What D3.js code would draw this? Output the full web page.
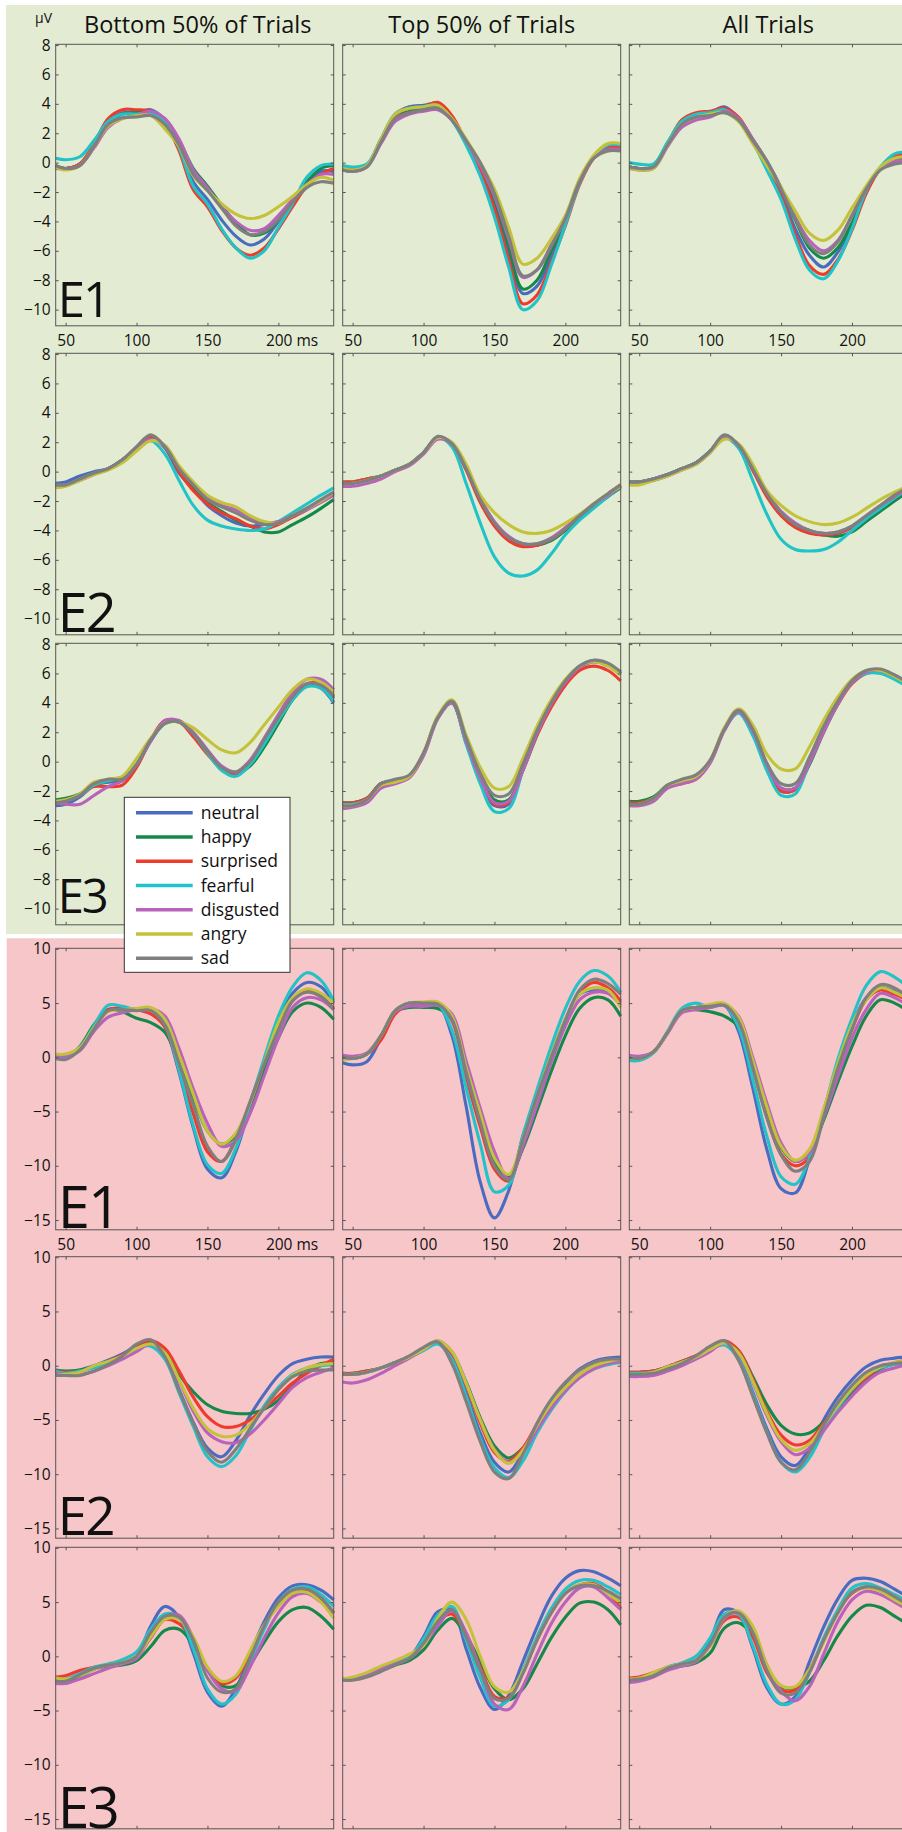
<!DOCTYPE html>
<html>
<head>
<meta charset="utf-8">
<script src="https://d3js.org/d3.v7.min.js"></script>
<style>
  body { margin: 0; background: #fff; }
  svg text { font-family: "Open Sans", "Noto Sans", sans-serif; fill: #111; }
</style>
</head>
<body>
<svg id="chart" width="902" height="1832"></svg>
<script>
var times = [43, 50, 60, 70, 80, 90, 100, 110, 120, 130, 140, 150, 160, 170, 180, 190, 200, 210, 220, 230, 239];
var conditions = ["neutral", "happy", "surprised", "fearful", "disgusted", "angry", "sad"];
var columnTitles = ["Bottom 50% of Trials", "Top 50% of Trials", "All Trials"];
var rowLabels = ["E1", "E2", "E3"];
var xTicks = [50, 100, 150, 200];
var greenYTicks = [-10, -8, -6, -4, -2, 0, 2, 4, 6, 8];
var redYTicks = [-15, -10, -5, 0, 5, 10];

// each panel: one row per condition, in the order of `conditions`
var greenE1Bottom = [
  [-0.2,-0.4,-0.1,1.2,2.8,3.4,3.4,3.6,2.9,1.2,-1.3,-2.5,-3.9,-5.0,-5.6,-5.2,-4.0,-2.7,-1.5,-0.6,-0.6],
  [-0.2,-0.4,-0.1,1.2,2.6,3.3,3.4,3.4,2.9,1.5,-0.4,-1.6,-2.9,-4.1,-4.9,-4.8,-3.9,-2.6,-1.3,-0.4,-0.2],
  [-0.3,-0.4,-0.1,1.3,3.0,3.6,3.6,3.5,2.7,0.8,-1.85,-3.0,-4.6,-5.8,-6.3,-5.8,-4.5,-3.0,-1.6,-0.8,-0.4],
  [0.3,0.2,0.4,1.5,2.8,3.3,3.3,3.4,2.8,1.0,-1.6,-2.8,-4.5,-5.8,-6.5,-6.0,-4.4,-2.8,-1.0,-0.2,-0.1],
  [-0.4,-0.4,-0.2,1.0,2.4,3.0,3.2,3.5,3.0,1.6,-0.5,-1.7,-3.0,-4.0,-4.6,-4.5,-3.6,-2.5,-1.5,-0.8,-0.8],
  [-0.3,-0.5,-0.2,1.1,2.5,3.0,3.2,3.2,2.3,1.1,-0.9,-1.9,-2.8,-3.5,-3.8,-3.6,-3.0,-2.3,-1.5,-1.0,-1.2],
  [-0.2,-0.4,-0.2,1.1,2.6,3.05,3.1,3.2,2.6,1.2,-0.8,-1.9,-3.1,-4.3,-4.9,-4.7,-3.9,-2.7,-1.7,-1.3,-1.4]
];
var greenE1Top = [
  [-0.4,-0.5,-0.2,1.6,3.3,3.8,3.9,4.0,2.9,1.4,-0.4,-2.8,-6.0,-8.9,-8.4,-6.4,-4.0,-1.3,0.4,1.0,1.0],
  [-0.4,-0.5,-0.2,1.5,3.1,3.5,3.7,3.8,2.9,1.5,-0.2,-2.5,-5.7,-8.6,-8.0,-6.0,-4.0,-1.3,0.4,0.9,0.9],
  [-0.4,-0.5,-0.2,1.5,3.2,3.7,3.8,4.1,3.2,1.4,-0.6,-3.2,-6.6,-9.6,-9.0,-6.8,-4.3,-1.5,0.3,1.0,1.1],
  [-0.2,-0.3,-0.1,1.6,3.3,3.7,3.8,3.9,2.9,1.2,-0.9,-3.7,-7.1,-10.0,-9.4,-7.0,-4.2,-1.4,0.4,1.2,1.2],
  [-0.5,-0.6,-0.3,1.3,2.8,3.3,3.5,3.6,2.9,1.5,-0.2,-2.3,-5.2,-7.8,-7.3,-5.6,-3.8,-1.3,0.3,0.9,0.9],
  [-0.4,-0.5,-0.2,1.6,3.3,3.7,3.8,3.9,3.0,1.6,0.0,-1.8,-4.4,-6.9,-6.5,-5.2,-3.6,-1.1,0.5,1.3,1.3],
  [-0.5,-0.6,-0.3,1.4,3.0,3.4,3.6,3.7,2.9,1.5,0.0,-2.1,-5.0,-7.7,-7.3,-5.7,-3.8,-1.3,0.3,0.8,0.8]
];
var greenE1All = [
  [-0.3,-0.4,-0.3,1.3,2.7,3.3,3.4,3.8,3.0,1.5,-0.2,-2.1,-4.5,-6.3,-7.1,-6.1,-4.2,-2.0,-0.4,0.1,0.2],
  [-0.3,-0.4,-0.3,1.3,2.7,3.2,3.4,3.6,3.0,1.6,0.1,-1.7,-3.9,-5.8,-6.5,-5.8,-4.1,-2.0,-0.4,0.2,0.3],
  [-0.3,-0.4,-0.3,1.3,2.9,3.4,3.5,3.7,3.1,1.5,-0.4,-2.3,-4.9,-7.0,-7.6,-6.6,-4.6,-2.1,-0.4,0.4,0.6],
  [0.0,-0.1,-0.1,1.4,2.8,3.3,3.4,3.6,2.9,1.4,-0.5,-2.5,-5.2,-7.3,-7.9,-6.7,-4.5,-1.9,-0.3,0.6,0.7],
  [-0.4,-0.5,-0.4,1.1,2.4,2.9,3.1,3.5,3.0,1.6,0.1,-1.7,-3.7,-5.3,-6.0,-5.3,-3.6,-1.8,-0.4,0.1,0.1],
  [-0.4,-0.5,-0.4,1.2,2.6,3.1,3.3,3.4,2.8,1.3,-0.2,-1.7,-3.3,-4.8,-5.3,-4.6,-3.1,-1.6,-0.3,0.3,0.4],
  [-0.3,-0.4,-0.3,1.2,2.6,3.1,3.2,3.4,2.9,1.5,0.1,-1.8,-3.8,-5.6,-6.2,-5.4,-3.6,-1.8,-0.5,-0.1,0.0]
];
var greenE2Bottom = [
  [-0.8,-0.7,-0.3,0.0,0.2,0.8,1.6,2.4,1.6,-0.1,-1.2,-2.3,-3.0,-3.5,-3.7,-3.6,-3.4,-3.0,-2.5,-2.0,-1.5],
  [-0.9,-0.9,-0.5,-0.1,0.2,0.8,1.6,2.3,1.7,0.0,-1.2,-2.1,-2.7,-3.3,-3.7,-4.1,-4.1,-3.6,-3.1,-2.5,-1.9],
  [-0.9,-0.9,-0.5,-0.1,0.2,0.8,1.6,2.4,1.7,0.0,-1.3,-2.2,-2.8,-3.2,-3.7,-3.9,-3.6,-3.1,-2.6,-2.0,-1.5],
  [-0.9,-0.9,-0.5,-0.1,0.2,0.8,1.5,2.1,1.2,-0.6,-2.3,-3.3,-3.7,-3.9,-4.0,-3.9,-3.4,-2.8,-2.2,-1.6,-1.1],
  [-1.0,-0.9,-0.6,-0.2,0.2,0.7,1.5,2.2,1.7,0.3,-0.8,-1.7,-2.3,-2.6,-3.1,-3.5,-3.4,-3.0,-2.6,-2.1,-1.6],
  [-1.1,-1.0,-0.6,-0.2,0.1,0.6,1.4,2.1,1.8,0.4,-0.7,-1.6,-2.1,-2.4,-3.0,-3.4,-3.5,-3.0,-2.5,-2.0,-1.4],
  [-0.9,-0.9,-0.5,-0.1,0.2,0.8,1.7,2.5,1.7,0.2,-0.9,-1.9,-2.4,-2.8,-3.3,-3.6,-3.5,-3.0,-2.5,-1.9,-1.4]
];
var greenE2Top = [
  [-0.8,-0.8,-0.6,-0.3,0.1,0.5,1.3,2.3,1.9,0.2,-2.0,-3.6,-4.6,-5.0,-5.0,-4.6,-3.9,-3.1,-2.3,-1.6,-1.0],
  [-0.7,-0.7,-0.5,-0.3,0.1,0.5,1.3,2.3,1.9,0.2,-1.9,-3.5,-4.5,-4.9,-5.0,-4.7,-4.0,-3.2,-2.4,-1.7,-1.1],
  [-0.7,-0.7,-0.5,-0.3,0.1,0.5,1.3,2.3,1.9,0.1,-2.1,-3.7,-4.7,-5.1,-5.0,-4.6,-3.9,-3.0,-2.2,-1.5,-0.9],
  [-0.8,-0.8,-0.6,-0.3,0.1,0.5,1.3,2.3,1.7,-0.8,-3.5,-5.8,-6.9,-7.1,-6.7,-5.6,-4.3,-3.3,-2.5,-1.7,-1.0],
  [-1.0,-1.0,-0.8,-0.5,0.0,0.4,1.2,2.2,1.9,0.3,-1.8,-3.4,-4.4,-4.9,-4.9,-4.5,-3.8,-3.0,-2.2,-1.6,-1.0],
  [-0.8,-0.8,-0.6,-0.3,0.1,0.5,1.3,2.3,2.0,0.5,-1.6,-2.8,-3.6,-4.1,-4.2,-4.0,-3.5,-2.9,-2.2,-1.5,-1.0],
  [-0.8,-0.8,-0.6,-0.3,0.1,0.5,1.3,2.4,1.9,0.2,-1.9,-3.5,-4.5,-4.9,-4.9,-4.6,-3.9,-3.0,-2.2,-1.5,-0.9]
];
var greenE2All = [
  [-0.7,-0.7,-0.5,-0.2,0.2,0.6,1.4,2.4,1.8,0.2,-1.6,-2.9,-3.7,-4.1,-4.3,-4.2,-3.8,-3.1,-2.4,-1.7,-1.1],
  [-0.7,-0.7,-0.5,-0.2,0.2,0.6,1.4,2.4,1.8,0.2,-1.5,-2.8,-3.6,-4.0,-4.3,-4.4,-4.1,-3.4,-2.7,-2.0,-1.4],
  [-0.7,-0.7,-0.5,-0.2,0.2,0.6,1.4,2.4,1.8,0.1,-1.7,-3.0,-3.8,-4.2,-4.3,-4.2,-3.8,-3.1,-2.4,-1.7,-1.1],
  [-0.7,-0.7,-0.5,-0.2,0.2,0.6,1.4,2.3,1.6,-0.6,-2.9,-4.6,-5.3,-5.4,-5.3,-4.8,-4.0,-3.2,-2.5,-1.8,-1.2],
  [-0.8,-0.8,-0.6,-0.3,0.1,0.5,1.3,2.3,1.8,0.3,-1.4,-2.7,-3.5,-4.0,-4.2,-4.1,-3.7,-3.0,-2.3,-1.7,-1.1],
  [-0.9,-0.9,-0.6,-0.3,0.1,0.5,1.3,2.2,1.9,0.5,-1.3,-2.3,-3.0,-3.4,-3.6,-3.5,-3.1,-2.5,-1.9,-1.4,-1.0],
  [-0.7,-0.7,-0.5,-0.2,0.2,0.6,1.4,2.5,1.8,0.2,-1.5,-2.8,-3.6,-4.0,-4.2,-4.1,-3.7,-3.0,-2.3,-1.6,-1.1]
];
var greenE3Bottom = [
  [-3.0,-2.9,-2.4,-1.6,-1.4,-1.3,-0.3,1.4,2.6,2.7,1.9,0.6,-0.5,-0.8,0.0,1.4,3.0,4.3,5.2,5.0,4.0],
  [-2.6,-2.5,-2.2,-1.6,-1.3,-1.2,-0.2,1.5,2.6,2.7,1.9,0.7,-0.4,-0.8,-0.3,1.0,2.6,4.2,5.2,5.2,4.3],
  [-2.8,-2.7,-2.3,-1.7,-1.7,-1.6,-0.4,1.5,2.8,2.7,1.7,0.5,-0.5,-0.9,0.0,1.4,3.0,4.4,5.3,5.3,4.4],
  [-2.8,-2.7,-2.3,-1.6,-1.3,-1.1,-0.2,1.5,2.6,2.7,1.9,0.6,-0.6,-1.0,-0.2,1.2,2.8,4.2,5.1,5.0,4.1],
  [-2.8,-2.9,-2.9,-2.3,-1.7,-1.3,-0.2,1.4,2.8,2.8,2.0,0.8,-0.3,-0.7,0.1,1.6,3.2,4.7,5.6,5.6,4.9],
  [-2.7,-2.6,-2.2,-1.4,-1.2,-1.0,0.2,1.6,2.6,2.7,2.3,1.5,0.8,0.6,1.3,2.5,3.7,4.9,5.6,5.4,4.7],
  [-2.8,-2.7,-2.3,-1.5,-1.2,-1.2,-0.2,1.5,2.6,2.7,1.9,0.7,-0.4,-0.7,0.0,1.5,3.0,4.4,5.3,5.2,4.5]
];
var greenE3Top = [
  [-2.8,-2.8,-2.5,-1.5,-1.3,-1.0,0.5,3.0,4.0,1.3,-1.3,-3.0,-2.9,-0.5,2.0,4.0,5.5,6.5,6.9,6.6,6.0],
  [-2.8,-2.8,-2.5,-1.5,-1.3,-1.0,0.5,3.0,4.0,1.5,-1.0,-2.6,-2.6,-0.6,1.8,3.9,5.4,6.4,6.8,6.6,6.1],
  [-2.8,-2.8,-2.5,-1.5,-1.3,-1.0,0.5,3.0,4.0,1.3,-1.2,-2.9,-2.8,-0.6,1.8,3.7,5.2,6.2,6.5,6.2,5.5],
  [-2.9,-2.9,-2.6,-1.6,-1.3,-1.0,0.5,3.0,4.0,1.2,-1.5,-3.4,-3.2,-0.6,2.0,4.0,5.5,6.5,6.8,6.5,5.9],
  [-3.2,-3.1,-2.8,-1.8,-1.5,-1.1,0.4,2.9,4.0,1.4,-1.1,-2.8,-2.7,-0.6,1.9,3.9,5.4,6.4,6.8,6.6,6.0],
  [-3.0,-3.0,-2.6,-1.6,-1.4,-1.0,0.6,3.1,4.2,1.8,-0.4,-1.8,-1.7,0.2,2.4,4.2,5.6,6.5,6.8,6.5,5.9],
  [-3.0,-3.0,-2.6,-1.5,-1.2,-0.9,0.6,3.0,4.1,1.6,-0.8,-2.3,-2.2,-0.2,2.1,4.0,5.5,6.5,6.9,6.7,6.1]
];
var greenE3All = [
  [-2.8,-2.8,-2.5,-1.6,-1.3,-1.0,0.0,2.2,3.4,2.0,-0.4,-2.0,-1.9,0.0,2.2,4.0,5.4,6.1,6.2,5.8,5.3],
  [-2.7,-2.7,-2.4,-1.6,-1.3,-1.0,0.0,2.2,3.4,2.1,-0.2,-1.8,-1.8,-0.2,2.0,3.9,5.4,6.1,6.2,5.8,5.3],
  [-2.8,-2.8,-2.5,-1.7,-1.5,-1.2,0.0,2.2,3.4,2.0,-0.4,-2.0,-1.9,0.0,2.1,3.9,5.3,6.0,6.1,5.7,5.2],
  [-2.9,-2.9,-2.6,-1.7,-1.4,-1.0,0.0,2.2,3.3,1.8,-0.6,-2.3,-2.2,0.0,2.2,4.0,5.4,6.0,6.0,5.6,5.1],
  [-3.0,-3.0,-2.7,-1.8,-1.5,-1.2,-0.1,2.1,3.4,2.1,-0.2,-1.8,-1.8,-0.1,2.0,3.9,5.4,6.1,6.2,5.9,5.4],
  [-2.9,-2.9,-2.5,-1.6,-1.3,-1.0,0.1,2.3,3.6,2.5,0.5,-0.5,-0.5,1.0,2.8,4.4,5.6,6.2,6.2,5.8,5.3],
  [-2.9,-2.9,-2.5,-1.6,-1.2,-0.9,0.1,2.2,3.5,2.2,-0.1,-1.5,-1.5,0.3,2.4,4.1,5.5,6.2,6.3,5.9,5.4]
];
var redE1Bottom = [
  [0.2,0.1,0.9,2.7,4.4,4.5,4.4,4.4,2.8,-1.4,-6.5,-10.3,-11.1,-8.7,-4.5,-0.3,3.5,5.9,6.9,6.5,5.0],
  [0.1,0.0,1.0,3.0,4.4,4.2,3.6,3.2,2.3,-0.5,-3.7,-6.8,-8.0,-7.2,-4.5,-1.3,1.8,4.2,5.0,4.6,3.5],
  [0.1,0.1,0.8,2.7,4.4,4.5,4.4,4.0,2.8,-1.2,-5.2,-8.7,-9.6,-7.6,-4.3,-0.5,2.8,5.2,6.1,5.6,4.5],
  [0.0,0.0,0.9,2.9,4.8,4.7,4.4,4.5,3.0,-1.2,-6.3,-9.9,-10.7,-8.4,-4.3,-0.1,3.8,6.5,7.8,7.1,5.2],
  [0.2,0.1,0.6,2.4,3.7,4.1,4.4,4.5,3.8,0.8,-2.9,-6.1,-8.2,-7.7,-5.2,-1.7,1.8,4.6,5.5,5.3,4.4],
  [0.3,0.3,0.9,2.7,4.2,4.4,4.5,4.6,3.5,0.2,-3.4,-6.8,-8.0,-7.0,-4.2,-0.5,3.2,5.5,6.3,5.9,5.0],
  [-0.1,-0.2,0.7,2.6,4.3,4.4,4.3,4.3,3.0,-0.6,-4.4,-8.2,-9.6,-7.5,-4.1,-0.6,2.5,5.2,6.0,5.6,4.4]
];
var redE1Top = [
  [-0.5,-0.7,-0.4,1.8,4.3,5.0,5.0,4.9,2.0,-4.5,-11.5,-14.8,-12.3,-7.3,-3.5,0.3,3.3,5.8,6.2,6.0,5.0],
  [0.0,-0.1,0.3,2.0,4.2,4.6,4.6,4.5,3.5,-1.5,-5.8,-9.6,-11.0,-8.4,-4.9,-1.3,2.0,4.5,5.5,5.3,3.8],
  [0.0,-0.1,0.3,1.6,4.0,4.9,5.0,4.9,3.4,-1.8,-6.4,-10.3,-11.4,-7.8,-3.5,0.0,3.5,6.0,6.9,6.4,5.2],
  [0.0,-0.1,0.3,2.0,4.3,5.0,5.0,4.9,2.5,-2.8,-8.0,-12.4,-11.8,-7.2,-3.0,1.0,4.5,7.0,8.0,7.5,6.0],
  [0.2,0.1,0.4,2.0,4.2,4.7,4.7,4.8,4.0,-0.3,-4.7,-8.7,-11.2,-8.2,-4.4,-0.5,2.9,5.3,6.0,5.9,4.8],
  [-0.2,-0.1,0.3,2.0,4.3,5.0,5.1,5.1,3.8,-0.9,-5.2,-9.3,-10.8,-7.6,-3.6,0.2,3.5,5.8,6.4,6.2,4.6],
  [0.0,-0.1,0.3,2.0,4.3,5.0,5.0,4.9,3.5,-1.3,-6.0,-10.0,-11.3,-7.6,-3.6,0.0,3.4,6.2,7.2,6.8,5.8]
];
var redE1All = [
  [0.0,-0.1,0.5,2.3,4.3,4.6,4.7,4.8,2.4,-2.8,-8.5,-12.1,-12.5,-9.4,-5.0,-0.6,3.0,5.5,6.4,6.1,5.4],
  [0.0,-0.1,0.5,2.3,4.3,4.4,4.2,3.8,2.8,-0.6,-5.0,-8.3,-9.6,-8.8,-5.8,-2.3,1.0,3.8,5.3,5.0,4.3],
  [0.0,-0.1,0.5,2.3,4.3,4.6,4.7,4.8,3.2,-1.0,-5.5,-8.9,-10.0,-9.2,-5.3,-1.0,2.6,5.3,6.2,5.8,5.3],
  [-0.3,-0.3,0.4,2.4,4.5,5.0,4.6,4.8,2.8,-2.0,-7.3,-11.0,-11.7,-9.3,-5.0,-0.2,3.6,6.6,7.9,7.4,6.5],
  [0.2,0.1,0.5,2.2,4.1,4.4,4.6,4.8,3.8,0.0,-4.2,-7.9,-9.6,-8.8,-5.6,-1.8,1.8,4.4,5.9,5.5,4.8],
  [0.0,-0.1,0.5,2.3,4.3,4.6,4.9,5.0,3.7,-0.3,-4.6,-8.2,-9.5,-8.5,-4.8,-0.6,3.0,5.3,6.4,6.0,5.4],
  [0.0,-0.1,0.5,2.3,4.3,4.6,4.7,4.8,3.3,-0.9,-5.6,-9.0,-10.5,-9.6,-5.5,-1.0,2.6,5.5,6.7,6.4,5.6]
];
var redE2Bottom = [
  [-0.5,-0.6,-0.4,0.0,0.5,1.1,1.8,2.2,0.9,-2.2,-5.2,-7.6,-8.4,-6.9,-4.6,-2.6,-0.9,0.2,0.6,0.8,0.8],
  [-0.4,-0.5,-0.4,-0.1,0.4,1.0,1.6,2.2,1.5,-0.8,-2.4,-3.6,-4.2,-4.4,-4.4,-4.0,-3.2,-1.8,-0.4,0.2,0.3],
  [-0.5,-0.6,-0.5,-0.1,0.4,1.0,1.7,2.3,1.6,-0.5,-2.9,-4.7,-5.6,-5.6,-5.0,-3.9,-2.8,-1.6,-0.7,0.0,0.6],
  [-0.5,-0.7,-0.5,-0.2,0.3,0.9,1.6,1.8,0.6,-2.5,-5.6,-8.4,-9.3,-8.3,-6.0,-3.7,-2.0,-0.8,-0.2,0.0,0.1],
  [-0.7,-0.8,-0.8,-0.5,0.0,0.6,1.3,2.0,1.0,-1.4,-4.2,-6.2,-7.0,-7.1,-6.3,-5.0,-3.5,-2.0,-1.1,-0.6,-0.2],
  [-0.9,-0.8,-0.6,0.0,0.4,0.9,1.6,2.0,1.2,-1.3,-3.9,-5.8,-6.5,-6.4,-5.4,-3.9,-2.2,-0.9,-0.2,0.1,0.2],
  [-0.9,-0.9,-0.9,-0.5,0.1,0.9,2.0,2.4,0.8,-2.3,-5.3,-7.9,-8.9,-7.7,-5.8,-3.9,-2.2,-1.0,-0.5,-0.4,-0.4]
];
var redE2Top = [
  [-0.8,-0.8,-0.6,-0.2,0.3,0.8,1.5,2.2,0.8,-2.5,-6.2,-8.9,-9.8,-8.0,-5.4,-3.3,-1.6,-0.3,0.4,0.7,0.8],
  [-0.7,-0.7,-0.5,-0.2,0.3,0.8,1.5,2.2,1.2,-1.5,-4.8,-7.4,-8.5,-7.6,-5.6,-3.7,-2.2,-1.0,-0.2,0.3,0.5],
  [-0.7,-0.7,-0.5,-0.2,0.3,0.8,1.5,2.2,1.1,-1.8,-5.3,-8.0,-8.8,-7.6,-5.4,-3.5,-2.0,-0.8,0.0,0.4,0.5],
  [-0.8,-0.8,-0.6,-0.2,0.3,0.8,1.4,2.0,0.6,-2.8,-6.7,-9.4,-10.3,-8.8,-6.2,-4.1,-2.4,-1.1,-0.3,0.1,0.3],
  [-1.5,-1.6,-1.3,-0.7,0.0,0.7,1.5,2.3,1.3,-1.6,-5.0,-7.7,-8.9,-8.0,-5.9,-3.9,-2.3,-1.1,-0.3,0.2,0.4],
  [-0.8,-0.8,-0.6,-0.2,0.3,0.8,1.5,2.3,1.3,-1.6,-5.0,-7.8,-9.0,-7.8,-5.5,-3.5,-2.0,-0.8,0.0,0.4,0.6],
  [-0.8,-0.8,-0.6,-0.2,0.3,0.9,1.7,2.2,0.2,-3.3,-7.0,-9.8,-10.4,-8.2,-5.3,-3.1,-1.5,-0.4,0.3,0.6,0.6]
];
var redE2All = [
  [-0.7,-0.7,-0.5,-0.1,0.4,0.9,1.6,2.2,0.8,-2.4,-5.8,-8.4,-9.2,-7.6,-5.0,-2.9,-1.3,-0.1,0.5,0.7,0.8],
  [-0.6,-0.6,-0.5,-0.1,0.4,0.9,1.6,2.2,1.4,-1.0,-3.6,-5.5,-6.3,-6.2,-5.2,-3.9,-2.6,-1.3,-0.3,0.2,0.4],
  [-0.6,-0.6,-0.5,-0.1,0.4,0.9,1.6,2.3,1.4,-1.2,-4.2,-6.4,-7.3,-6.9,-5.3,-3.7,-2.3,-1.1,-0.2,0.3,0.5],
  [-0.7,-0.7,-0.6,-0.2,0.3,0.8,1.5,1.9,0.6,-2.6,-6.1,-8.9,-9.8,-8.5,-6.0,-3.9,-2.2,-0.9,-0.2,0.1,0.2],
  [-1.0,-1.0,-0.9,-0.5,0.0,0.6,1.3,2.1,1.1,-1.5,-4.6,-7.0,-8.2,-7.6,-6.0,-4.3,-2.8,-1.5,-0.6,-0.2,0.1],
  [-0.8,-0.8,-0.6,-0.1,0.3,0.8,1.5,2.1,1.2,-1.4,-4.4,-6.8,-7.8,-7.2,-5.5,-3.7,-2.1,-0.9,-0.1,0.3,0.4],
  [-0.8,-0.8,-0.7,-0.3,0.2,0.9,1.8,2.3,0.5,-2.8,-6.2,-8.9,-9.6,-8.0,-5.5,-3.4,-1.8,-0.6,0.0,0.2,0.3]
];
var redE3Bottom = [
  [-2.3,-2.4,-1.8,-1.1,-0.8,-0.6,0.0,2.8,4.6,3.6,0.3,-3.3,-4.6,-3.0,0.2,3.2,5.4,6.5,6.6,6.1,5.2],
  [-2.3,-2.5,-1.9,-1.2,-0.9,-0.8,-0.4,0.9,2.4,2.5,1.1,-1.2,-2.7,-2.7,-0.8,1.3,3.2,4.3,4.5,3.7,2.5],
  [-1.9,-1.8,-1.3,-1.0,-0.8,-0.6,0.0,1.7,3.4,3.0,1.5,-1.3,-2.5,-2.0,0.3,2.8,4.8,5.8,6.0,5.3,4.0],
  [-2.2,-2.1,-1.6,-1.0,-0.7,-0.3,0.4,2.5,3.9,3.6,0.7,-3.0,-4.4,-3.5,-0.5,2.5,5.0,6.2,6.4,5.7,4.6],
  [-2.5,-2.5,-2.1,-1.6,-1.1,-0.7,-0.2,1.8,3.6,3.8,1.7,-1.3,-3.0,-3.2,-1.0,1.7,4.0,5.5,5.8,5.0,4.0],
  [-2.0,-2.1,-1.8,-1.2,-0.8,-0.6,0.0,1.8,3.4,3.4,1.8,-1.0,-2.3,-1.8,0.5,2.9,4.6,5.8,5.9,5.0,3.5],
  [-2.3,-2.3,-1.7,-1.1,-0.8,-0.6,0.0,2.2,3.7,3.6,1.5,-2.0,-3.3,-3.0,-0.2,2.8,5.0,6.1,6.2,5.4,4.0]
];
var redE3Top = [
  [-2.1,-2.1,-1.8,-1.2,-0.6,-0.1,1.8,4.1,4.3,0.7,-2.9,-4.9,-3.6,-0.5,2.7,5.5,7.2,7.9,7.8,7.2,6.5],
  [-2.1,-2.1,-1.8,-1.3,-0.8,-0.4,0.6,2.4,3.5,1.9,-0.5,-3.0,-4.0,-3.0,-0.7,1.7,3.6,4.9,5.0,4.3,2.9],
  [-2.1,-2.1,-1.8,-1.2,-0.6,-0.1,1.2,3.2,3.9,2.0,-1.0,-3.7,-3.8,-1.5,1.5,4.0,5.8,6.6,6.7,5.9,4.4],
  [-2.1,-2.1,-1.8,-1.2,-0.6,-0.1,1.6,3.8,4.6,1.5,-2.0,-4.6,-4.0,-1.3,1.8,4.4,6.2,7.0,7.0,6.4,5.7],
  [-2.1,-2.1,-1.8,-1.2,-0.7,-0.2,1.0,2.8,4.2,2.2,-1.2,-4.4,-4.9,-2.8,0.2,3.0,5.0,6.3,6.4,5.4,4.3],
  [-2.1,-1.9,-1.5,-0.9,-0.4,0.2,1.0,3.5,5.0,3.4,0.0,-2.8,-3.3,-1.4,1.5,4.0,5.8,6.6,6.6,5.8,4.9],
  [-2.2,-2.2,-1.9,-1.4,-0.8,-0.2,1.2,3.2,4.3,1.8,-1.3,-3.9,-3.9,-1.6,1.5,4.0,5.8,6.5,6.5,6.0,5.3]
];
var redE3All = [
  [-2.2,-2.1,-1.7,-1.0,-0.7,-0.4,1.5,4.3,4.0,0.8,-2.9,-4.4,-3.7,-0.5,2.7,5.3,7.0,7.2,6.9,6.2,5.5],
  [-2.2,-2.1,-1.7,-1.1,-0.9,-0.6,0.3,2.6,3.1,1.9,-1.0,-2.8,-2.9,-2.3,-0.4,1.9,3.7,4.7,4.5,3.7,3.0],
  [-2.0,-1.9,-1.5,-1.0,-0.7,-0.4,1.0,3.3,3.6,1.8,-1.5,-3.1,-3.1,-1.2,1.4,4.1,5.8,6.4,6.1,5.4,4.6],
  [-2.2,-2.1,-1.7,-1.0,-0.6,0.0,1.7,3.9,3.9,1.0,-2.6,-4.4,-4.0,-1.5,1.7,4.3,6.3,6.7,6.3,5.7,5.1],
  [-2.4,-2.3,-1.9,-1.3,-0.9,-0.5,1.0,3.5,4.0,2.5,-0.8,-3.2,-4.1,-2.8,0.2,3.2,5.2,6.0,5.7,5.0,4.3],
  [-2.1,-2.0,-1.5,-1.0,-0.7,-0.4,1.0,3.6,4.2,2.8,-0.8,-2.7,-2.8,-1.2,1.3,4.0,5.9,6.3,6.0,5.2,4.6],
  [-2.2,-2.1,-1.8,-1.1,-0.7,-0.4,1.1,3.6,4.0,2.2,-1.3,-3.4,-3.4,-1.5,1.5,4.0,5.9,6.4,6.2,5.5,4.8]
];

var greenPanels = [
  [greenE1Bottom, greenE1Top, greenE1All],
  [greenE2Bottom, greenE2Top, greenE2All],
  [greenE3Bottom, greenE3Top, greenE3All]
];
var redPanels = [
  [redE1Bottom, redE1Top, redE1All],
  [redE2Bottom, redE2Top, redE2All],
  [redE3Bottom, redE3Top, redE3All]
];

var lineColors = ["#4a6cc0", "#15894a", "#ee3b2e", "#22c3c8", "#b862bc", "#c4c23a", "#7f7f7f"];
var color = d3.scaleOrdinal().domain(conditions).range(lineColors);

var svg = d3.select("#chart");
var W = 278, H = 281.5;
var colLeft = [55.7, 342.7, 629.3];
var greenTop = [44.3, 353.3, 643.3];
var redTop = [948.3, 1256.7, 1547.3];
// big row labels: font size and gap between baseline and panel bottom
var greenLabelSize = [49, 54, 47], greenLabelGap = [9, 2.5, 12];
var redLabelSize = [58, 53, 57], redLabelGap = [2, 3, 0.5];
var frameColor = "#555";

// section backgrounds
svg.append("rect").attr("x", 6).attr("y", 5).attr("width", 896).attr("height", 929).attr("fill", "#e3ecd2");
svg.append("rect").attr("x", 6.7).attr("y", 938.3).attr("width", 896).attr("height", 894).attr("fill", "#f6c6c9");

var yFormat = function(d) { return d < 0 ? "\u2212" + Math.abs(d) : String(d); };

function drawPanel(data, left, top, yDomain, yTicks, col, showX, label, labelSize, labelGap) {
  var x = d3.scaleLinear().domain([43, 239]).range([left, left + W]);
  var y = d3.scaleLinear().domain(yDomain).range([top + H, top]);
  var g = svg.append("g");

  var line = d3.line()
      .x(function(d, i) { return x(times[i]); })
      .y(function(d) { return y(d); })
      .curve(d3.curveCatmullRom.alpha(0.5));

  g.selectAll(".wave")
    .data(data)
    .enter().append("path")
      .attr("class", "wave")
      .attr("d", line)
      .attr("fill", "none")
      .attr("stroke", function(d, i) { return color(conditions[i]); })
      .attr("stroke-width", 3.1)
      .attr("stroke-linejoin", "round");

  g.append("rect")
    .attr("x", left).attr("y", top).attr("width", W).attr("height", H)
    .attr("fill", "none").attr("stroke", frameColor).attr("stroke-width", 1);

  var bottom = g.append("g").attr("transform", "translate(0," + (top + H) + ")")
    .call(d3.axisBottom(x).tickValues(xTicks).tickSize(-3).tickPadding(9)
      .tickFormat(showX ? function(d) { return d; } : ""));
  g.append("g").attr("transform", "translate(0," + top + ")")
    .call(d3.axisTop(x).tickValues(xTicks).tickSize(-3).tickFormat(""));
  g.append("g").attr("transform", "translate(" + left + ",0)")
    .call(d3.axisLeft(y).tickValues(yTicks).tickSize(-3).tickPadding(5)
      .tickFormat(col === 0 ? yFormat : ""));
  g.append("g").attr("transform", "translate(" + (left + W) + ",0)")
    .call(d3.axisRight(y).tickValues(yTicks).tickSize(-3).tickFormat(""));

  g.selectAll(".domain").remove();
  g.selectAll(".tick line").attr("stroke", frameColor);
  g.selectAll(".tick text").attr("font-size", 15.5).attr("fill", "#111")
    .style("font-family", "'Open Sans', sans-serif");

  if (showX && col === 0) {
    bottom.selectAll(".tick").filter(function(d) { return d === 200; })
      .select("text").attr("text-anchor", "start").attr("x", -13).text("200 ms");
  }

  if (label) {
    g.append("text")
      .attr("x", left + 2).attr("y", top + H - labelGap)
      .attr("font-size", labelSize).attr("letter-spacing", -2)
      .text(label);
  }
}

greenPanels.forEach(function(row, r) {
  row.forEach(function(data, c) {
    drawPanel(data, colLeft[c], greenTop[r], [-11.1, 8.05], greenYTicks, c, r === 0,
      c === 0 ? rowLabels[r] : null, greenLabelSize[r], greenLabelGap[r]);
  });
});
redPanels.forEach(function(row, r) {
  row.forEach(function(data, c) {
    drawPanel(data, colLeft[c], redTop[r], [-15.9, 10.05], redYTicks, c, r === 0,
      c === 0 ? rowLabels[r] : null, redLabelSize[r], redLabelGap[r]);
  });
});

// column titles and unit
columnTitles.forEach(function(t, c) {
  svg.append("text")
    .attr("x", colLeft[c] + W / 2 + (c === 0 ? 3 : 0)).attr("y", 33)
    .attr("text-anchor", "middle").attr("font-size", 23.5)
    .text(t);
});
svg.append("text").attr("x", 35).attr("y", 23).attr("font-size", 14).text("μV");

// legend
var legend = svg.append("g");
legend.append("rect")
  .attr("x", 124.3).attr("y", 797.3).attr("width", 165.7).attr("height", 175)
  .attr("fill", "#fff").attr("stroke", "#333").attr("stroke-width", 1);
var ly = d3.scalePoint().domain(conditions).range([812.7, 958.3]);
var item = legend.selectAll(".item").data(conditions).enter().append("g").attr("class", "item");
item.append("line")
  .attr("x1", 136).attr("x2", 192.7)
  .attr("y1", function(d) { return ly(d); }).attr("y2", function(d) { return ly(d); })
  .attr("stroke", function(d) { return color(d); }).attr("stroke-width", 3.4);
item.append("text")
  .attr("x", 200.7).attr("y", function(d) { return ly(d); }).attr("dy", "0.35em")
  .attr("font-size", 17.5)
  .text(function(d) { return d; });
</script>
</body>
</html>
